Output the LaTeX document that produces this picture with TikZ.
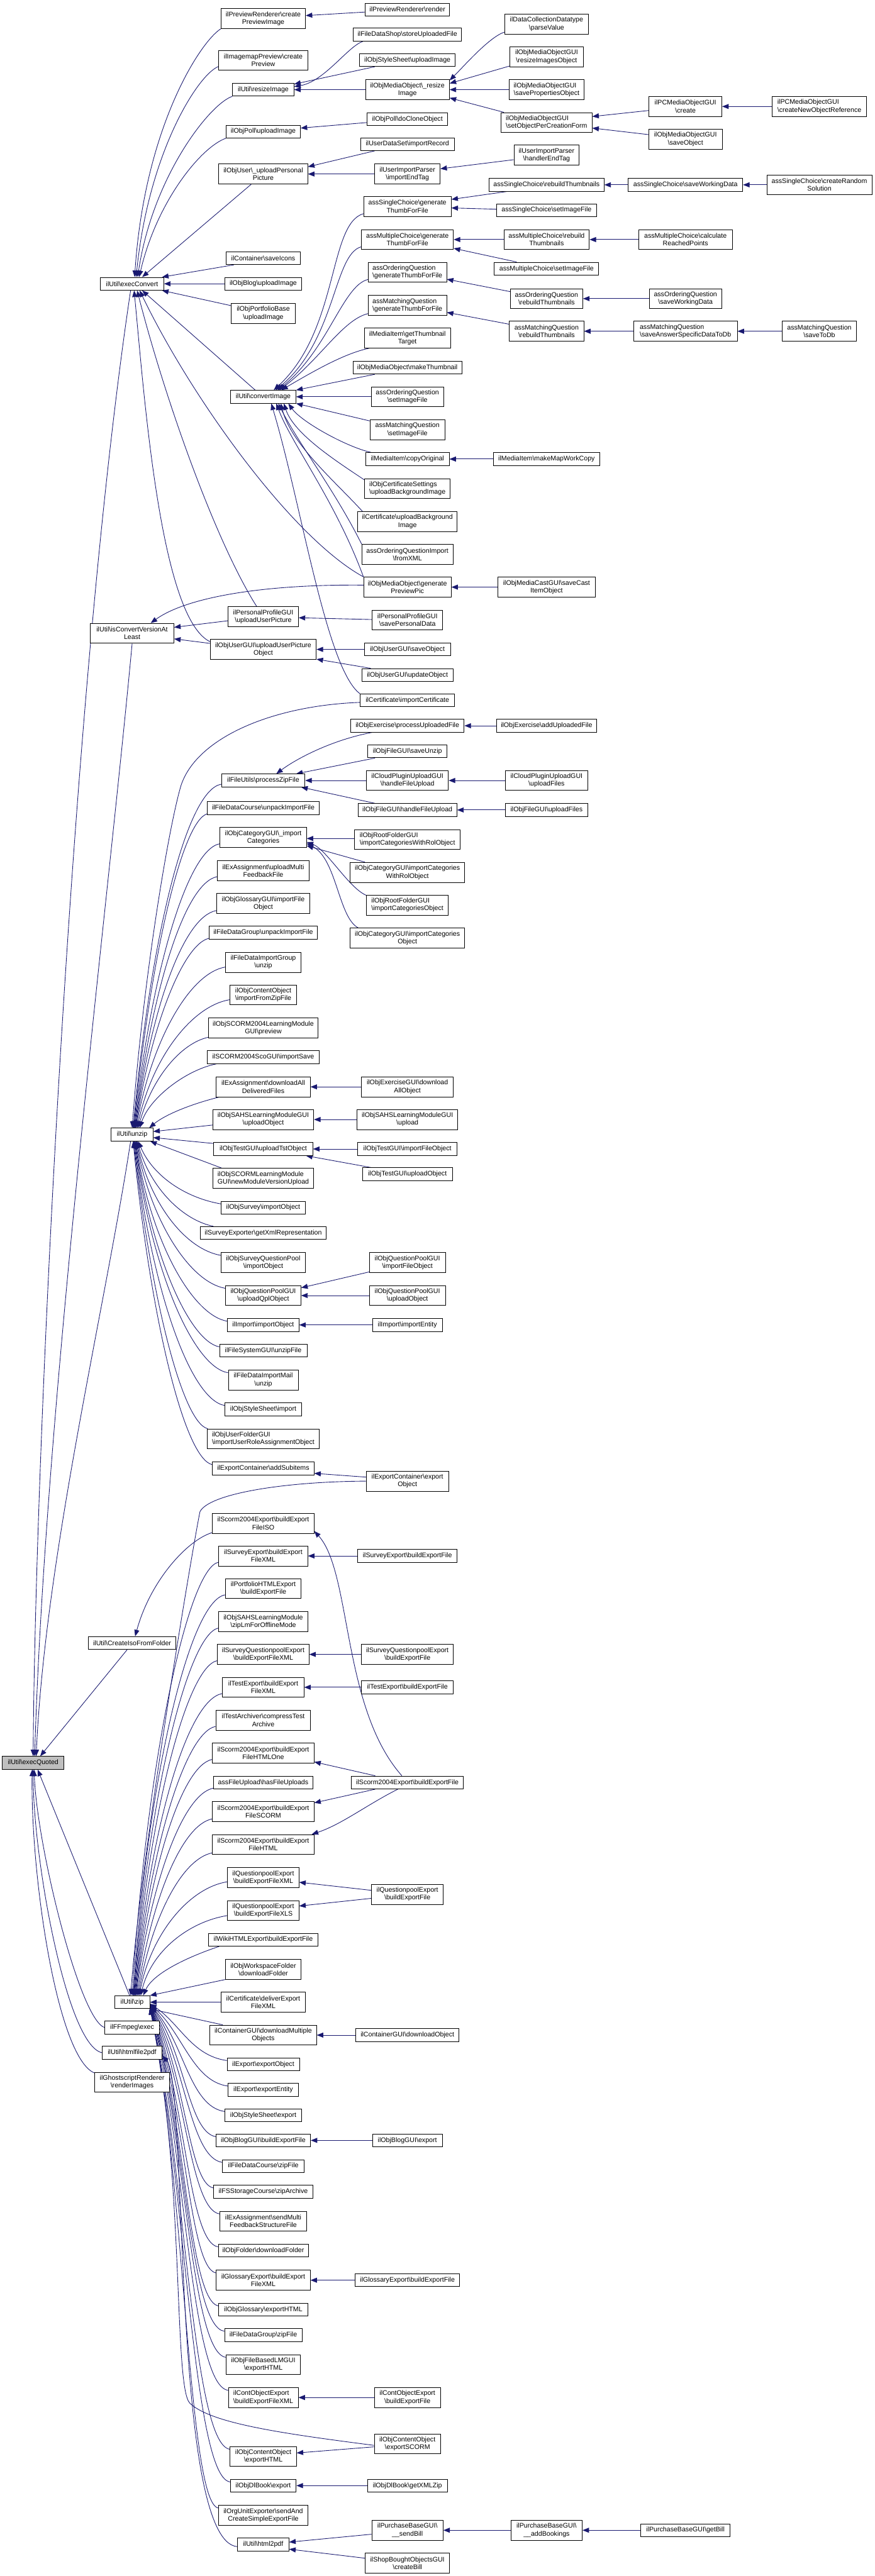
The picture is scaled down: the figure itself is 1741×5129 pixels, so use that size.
\documentclass[tikz,border=0pt]{standalone}
\usepackage{fontspec}
\setmainfont{Liberation Sans}
\usetikzlibrary{arrows.meta,calc}
\definecolor{mblue}{RGB}{25,25,112}
\pgfdeclarelayer{edgelayer}
\pgfsetlayers{edgelayer,main}
\newcommand{\bkslash}{\textbackslash}
\newcommand{\nbox}[5][fn]{\node[#1,minimum width=#4pt] (#2) at #3 {#5};}
\newcommand{\cv}[6]{\draw[calledge] ($(#1)+(#2)$) .. controls ($(#1)+(#2)+(#3)$) and ($(#5)+(#6)+(#4)$) .. ($(#5)+(#6)$);}
\newcommand{\seg}[4]{\draw[calledge] ($(#1)+(#2)$) -- ($(#3)+(#4)$);}
\begin{document}
\begin{tikzpicture}[x=1pt,y=-1pt,
 fn/.style={draw=black, line width=1.1pt, fill=white, inner xsep=3pt, inner ysep=1pt, minimum height=25.6pt, font=\fontsize{13.3}{15.3}\selectfont, align=center},
 fn2/.style={fn, minimum height=39.8pt},
 calledge/.style={draw=mblue, line width=1.1pt, -{Triangle[length=13pt,width=10pt]}}]
\useasboundingbox (0,0) rectangle (1741,5129);
\let\bs\bkslash
% column 1
\nbox[fn,fill=gray!50]{eq}{(66,3510)}{123}{ilUtil\bs execQuoted}
% column 2
\nbox{execconv}{(263,565)}{126}{ilUtil\bs execConvert}
\nbox[fn2]{isconv}{(263,1261)}{166}{ilUtil\bs isConvertVersionAt\\Least}
\nbox{unzip}{(263,2259)}{83}{ilUtil\bs unzip}
\nbox{createiso}{(263,3271.4)}{175}{ilUtil\bs CreateIsoFromFolder}
\nbox{zip}{(263,3986.5)}{70}{ilUtil\bs zip}
\nbox{ffmpeg}{(263,4037)}{108}{ilFFmpeg\bs exec}
\nbox{htmlfile2pdf}{(263,4087)}{119}{ilUtil\bs htmlfile2pdf}
\nbox[fn2]{ghost}{(263,4146)}{148}{ilGhostscriptRenderer\\\bs renderImages}
% column 3
\nbox[fn2]{prevImg}{(524,37)}{168}{ilPreviewRenderer\bs create\\PreviewImage}
\nbox[fn2]{imgmap}{(524,120)}{177}{ilImagemapPreview\bs create\\Preview}
\nbox{resize}{(524,178.5)}{122}{ilUtil\bs resizeImage}
\nbox{pollup}{(524,262)}{148}{ilObjPoll\bs uploadImage}
\nbox[fn2]{userpic}{(524,346.5)}{177}{ilObjUser\bs \_uploadPersonal\\Picture}
\nbox{saveicons}{(524,514)}{148}{ilContainer\bs saveIcons}
\nbox{blogimg}{(524,565)}{152}{ilObjBlog\bs uploadImage}
\nbox[fn2]{portimg}{(524,624)}{127}{ilObjPortfolioBase\\\bs uploadImage}
\nbox{convert}{(524,790)}{130}{ilUtil\bs convertImage}
\nbox[fn2]{ppupload}{(524,1228)}{140}{ilPersonalProfileGUI\\\bs uploadUserPicture}
\nbox[fn2]{userguiupload}{(524,1293)}{211}{ilObjUserGUI\bs uploadUserPicture\\Object}
\nbox{pzip}{(524,1554)}{166}{ilFileUtils\bs processZipFile}
\nbox{fdcunpack}{(524,1609)}{222}{ilFileDataCourse\bs unpackImportFile}
\nbox[fn2]{catimport}{(524,1667.5)}{172}{ilObjCategoryGUI\bs \_import\\Categories}
\nbox[fn2]{exmulti}{(524,1734)}{182}{ilExAssignment\bs uploadMulti\\FeedbackFile}
\nbox[fn2]{glossimp}{(524,1798.6)}{186}{ilObjGlossaryGUI\bs importFile\\Object}
\nbox{fdgunpack}{(524,1857)}{216}{ilFileDataGroup\bs unpackImportFile}
\nbox[fn2]{fdigunzip}{(524,1916)}{150}{ilFileDataImportGroup\\\bs unzip}
\nbox[fn2]{cozip}{(524,1981)}{132}{ilObjContentObject\\\bs importFromZipFile}
\nbox[fn2]{scormprev}{(524,2046.7)}{217}{ilObjSCORM2004LearningModule\\GUI\bs preview}
\nbox{scoimport}{(524,2105)}{222}{ilSCORM2004ScoGUI\bs importSave}
\nbox[fn2]{exdownload}{(524,2164)}{187}{ilExAssignment\bs downloadAll\\DeliveredFiles}
\nbox[fn2]{sahsupload}{(524,2229)}{201}{ilObjSAHSLearningModuleGUI\\\bs uploadObject}
\nbox{tstupload}{(524,2287.7)}{197}{ilObjTestGUI\bs uploadTstObject}
\nbox[fn2,align=left]{scormnew}{(524,2346)}{201}{ilObjSCORMLearningModule\\GUI\bs newModuleVersionUpload}
\nbox{survimport}{(524,2404.4)}{167}{ilObjSurvey\bs importObject}
\nbox{survxml}{(524,2455)}{251}{ilSurveyExporter\bs getXmlRepresentation}
\nbox[fn2]{sqpimport}{(524,2514)}{167}{ilObjSurveyQuestionPool\\\bs importObject}
\nbox[fn2]{qplupload}{(524,2579.5)}{150}{ilObjQuestionPoolGUI\\\bs uploadQplObject}
\nbox{impobj}{(524,2638)}{142}{ilImport\bs importObject}
\nbox{fsunzip}{(524,2689)}{174}{ilFileSystemGUI\bs unzipFile}
\nbox[fn2]{fdimunzip}{(524,2747.7)}{139}{ilFileDataImportMail\\\bs unzip}
\nbox{ssimport}{(524,2805.8)}{152}{ilObjStyleSheet\bs import}
\nbox[fn2,align=left]{ufimport}{(524,2865)}{224}{ilObjUserFolderGUI\\\bs importUserRoleAssignmentObject}
\nbox{ecadd}{(524,2923.5)}{202}{ilExportContainer\bs addSubitems}
\nbox[fn2]{scoiso}{(524,3033)}{202}{ilScorm2004Export\bs buildExport\\FileISO}
\nbox[fn2]{survexpxml}{(524,3098)}{177}{ilSurveyExport\bs buildExport\\FileXML}
\nbox[fn2]{porthtml}{(524,3163)}{151}{ilPortfolioHTMLExport\\\bs buildExportFile}
\nbox[fn2]{sahszip}{(524,3229)}{177}{ilObjSAHSLearningModule\\\bs zipLmForOfflineMode}
\nbox[fn2]{sqpexpxml}{(524,3294)}{182}{ilSurveyQuestionpoolExport\\\bs buildExportFileXML}
\nbox[fn2]{tstexpxml}{(524,3359.5)}{162}{ilTestExport\bs buildExport\\FileXML}
\nbox[fn2]{tstarch}{(524,3425)}{189}{ilTestArchiver\bs compressTest\\Archive}
\nbox[fn2]{scohtmlone}{(524,3490.6)}{202}{ilScorm2004Export\bs buildExport\\FileHTMLOne}
\nbox{fileupload}{(524,3549)}{198}{assFileUpload\bs hasFileUploads}
\nbox[fn2]{scoscorm}{(524,3607)}{202}{ilScorm2004Export\bs buildExport\\FileSCORM}
\nbox[fn2]{scohtml}{(524,3672.7)}{202}{ilScorm2004Export\bs buildExport\\FileHTML}
\nbox[fn2]{qpxml}{(524,3738.7)}{142}{ilQuestionpoolExport\\\bs buildExportFileXML}
\nbox[fn2]{qpxls}{(524,3804)}{142}{ilQuestionpoolExport\\\bs buildExportFileXLS}
\nbox{wikihtml}{(524,3862)}{218}{ilWikiHTMLExport\bs buildExportFile}
\nbox[fn2]{wsdl}{(524,3921)}{151}{ilObjWorkspaceFolder\\\bs downloadFolder}
\nbox[fn2]{certxml}{(524,3986.5)}{168}{ilCertificate\bs deliverExport\\FileXML}
\nbox[fn2]{contdlmulti}{(524,4052)}{212}{ilContainerGUI\bs downloadMultiple\\Objects}
\nbox{expobj}{(524,4110)}{144}{ilExport\bs exportObject}
\nbox{expent}{(524,4160.8)}{140}{ilExport\bs exportEntity}
\nbox{ssexport}{(524,4211.5)}{152}{ilObjStyleSheet\bs export}
\nbox{blogexp}{(524,4261.6)}{188}{ilObjBlogGUI\bs buildExportFile}
\nbox{fdczip}{(524,4312.8)}{162}{ilFileDataCourse\bs zipFile}
\nbox{fsszip}{(524,4363.6)}{198}{ilFSStorageCourse\bs zipArchive}
\nbox[fn2]{exsend}{(524,4422.5)}{173}{ilExAssignment\bs sendMulti\\FeedbackStructureFile}
\nbox{folderdl}{(524,4481)}{179}{ilObjFolder\bs downloadFolder}
\nbox[fn2]{glossxml}{(524,4540)}{187}{ilGlossaryExport\bs buildExport\\FileXML}
\nbox{glosshtml}{(524,4598.6)}{177}{ilObjGlossary\bs exportHTML}
\nbox{fdgzip}{(524,4649)}{154}{ilFileDataGroup\bs zipFile}
\nbox[fn2]{flmhtml}{(524,4708)}{148}{ilObjFileBasedLMGUI\\\bs exportHTML}
\nbox[fn2,align=left]{coexpxml}{(524,4773.6)}{139}{ilContObjectExport\\\bs buildExportFileXML}
\nbox[fn2]{cohtml}{(524,4891)}{132}{ilObjContentObject\\\bs exportHTML}
\nbox{dlbook}{(524,4949)}{131}{ilObjDlBook\bs export}
\nbox[fn2]{orgunit}{(524,5008)}{178}{ilOrgUnitExporter\bs sendAnd\\CreateSimpleExportFile}
\nbox{html2pdf}{(524,5066.5)}{102}{ilUtil\bs html2pdf}
% column 4
\nbox{prender}{(811,19)}{168}{ilPreviewRenderer\bs render}
\nbox{storeup}{(811,69)}{216}{ilFileDataShop\bs storeUploadedFile}
\nbox{ssupimg}{(811,119.5)}{191}{ilObjStyleSheet\bs uploadImage}
\nbox[fn2]{moresize}{(811,178.5)}{167}{ilObjMediaObject\bs \_resize\\Image}
\nbox{pollclone}{(811,237)}{160}{ilObjPoll\bs doCloneObject}
\nbox{udsimport}{(811,287)}{187}{ilUserDataSet\bs importRecord}
\nbox[fn2]{uipend}{(811,346.5)}{130}{ilUserImportParser\\\bs importEndTag}
\nbox[fn2]{scthumb}{(811,411)}{174}{assSingleChoice\bs generate\\ThumbForFile}
\nbox[fn2]{mcthumb}{(811,477)}{183}{assMultipleChoice\bs generate\\ThumbForFile}
\nbox[fn2,align=left]{oqthumb}{(811,542)}{156}{assOrderingQuestion\\\bs generateThumbForFile}
\nbox[fn2,align=left]{mqthumb}{(811,608)}{156}{assMatchingQuestion\\\bs generateThumbForFile}
\nbox[fn2]{mithumb}{(811,673)}{171}{ilMediaItem\bs getThumbnail\\Target}
\nbox{momake}{(811,732)}{217}{ilObjMediaObject\bs makeThumbnail}
\nbox[fn2]{oqsetimg}{(811,790)}{144}{assOrderingQuestion\\\bs setImageFile}
\nbox[fn2]{mqsetimg}{(811,855.5)}{149}{assMatchingQuestion\\\bs setImageFile}
\nbox{micopy}{(811,914)}{166}{ilMediaItem\bs copyOriginal}
\nbox[fn2,align=left]{certsetbg}{(811,973)}{170}{ilObjCertificateSettings\\\bs uploadBackgroundImage}
\nbox[fn2]{certbg}{(811,1038.5)}{198}{ilCertificate\bs uploadBackground\\Image}
\nbox[fn2]{oqimport}{(811,1104)}{181}{assOrderingQuestionImport\\\bs fromXML}
\nbox[fn2]{moprev}{(811,1169)}{174}{ilObjMediaObject\bs generate\\PreviewPic}
\nbox[fn2]{ppsave}{(811,1234.5)}{140}{ilPersonalProfileGUI\\\bs savePersonalData}
\nbox{usave}{(811,1293)}{171}{ilObjUserGUI\bs saveObject}
\nbox{uupdate}{(811,1344)}{181}{ilObjUserGUI\bs updateObject}
\nbox{certimp}{(811,1394.5)}{188}{ilCertificate\bs importCertificate}
\nbox{exproc}{(811,1445)}{226}{ilObjExercise\bs processUploadedFile}
\nbox{fsaveunzip}{(811,1496)}{158}{ilObjFileGUI\bs saveUnzip}
\nbox[fn2]{cloudhandle}{(811,1554)}{163}{ilCloudPluginUploadGUI\\\bs handleFileUpload}
\nbox{filehandle}{(811,1612.7)}{197}{ilObjFileGUI\bs handleFileUpload}
\nbox[fn2,align=left]{rootcatrol}{(811,1671.5)}{211}{ilObjRootFolderGUI\\\bs importCategoriesWithRolObject}
\nbox[fn2]{catcatrol}{(811,1737)}{228}{ilObjCategoryGUI\bs importCategories\\WithRolObject}
\nbox[fn2,align=left]{rootcat}{(811,1802)}{163}{ilObjRootFolderGUI\\\bs importCategoriesObject}
\nbox[fn2]{catcat}{(811,1868)}{228}{ilObjCategoryGUI\bs importCategories\\Object}
\nbox[fn2]{exguidl}{(811,2164)}{183}{ilObjExerciseGUI\bs download\\AllObject}
\nbox[fn2]{sahsup}{(811,2229)}{200}{ilObjSAHSLearningModuleGUI\\\bs upload}
\nbox{tstimpfile}{(811,2287.7)}{198}{ilObjTestGUI\bs importFileObject}
\nbox{tstupobj}{(811,2338)}{179}{ilObjTestGUI\bs uploadObject}
\nbox[fn2]{qpimpfile}{(811,2514)}{151}{ilObjQuestionPoolGUI\\\bs importFileObject}
\nbox[fn2]{qpupobj}{(811,2579.5)}{151}{ilObjQuestionPoolGUI\\\bs uploadObject}
\nbox{impent}{(811,2638)}{139}{ilImport\bs importEntity}
\nbox[fn2]{ecexport}{(811,2949)}{164}{ilExportContainer\bs export\\Object}
\nbox{survexpfile}{(811,3098)}{198}{ilSurveyExport\bs buildExportFile}
\nbox[fn2]{sqpexpfile}{(811,3294)}{183}{ilSurveyQuestionpoolExport\\\bs buildExportFile}
\nbox{tstexpfile}{(811,3359.5)}{183}{ilTestExport\bs buildExportFile}
\nbox{scoexpfile}{(811,3549)}{223}{ilScorm2004Export\bs buildExportFile}
\nbox[fn2]{qpexpfile}{(811,3771.7)}{143}{ilQuestionpoolExport\\\bs buildExportFile}
\nbox{contdl}{(811,4052)}{205}{ilContainerGUI\bs downloadObject}
\nbox{blogguiexp}{(811,4261.6)}{139}{ilObjBlogGUI\bs export}
\nbox{glossexpfile}{(811,4540)}{208}{ilGlossaryExport\bs buildExportFile}
\nbox[fn2]{coexpfile}{(811,4773.6)}{132}{ilContObjectExport\\\bs buildExportFile}
\nbox[fn2]{coscorm}{(811,4865.8)}{132}{ilObjContentObject\\\bs exportSCORM}
\nbox{dlxml}{(811,4949)}{159}{ilObjDlBook\bs getXMLZip}
\nbox[fn2]{sendbill}{(811,5037.8)}{142}{ilPurchaseBaseGUI\bs\\\_\_sendBill}
\nbox[fn2]{shopbill}{(811,5103.5)}{168}{ilShopBoughtObjectsGUI\\\bs createBill}
% column 5
\nbox[fn2]{dcparse}{(1088,48)}{167}{ilDataCollectionDatatype\\\bs parseValue}
\nbox[fn2]{moguiresize}{(1088,113)}{146}{ilObjMediaObjectGUI\\\bs resizeImagesObject}
\nbox[fn2,align=left]{moguisaveprop}{(1088,178.5)}{150}{ilObjMediaObjectGUI\\\bs savePropertiesObject}
\nbox[fn2,align=left]{moguisetobj}{(1088,244)}{181}{ilObjMediaObjectGUI\\\bs setObjectPerCreationForm}
\nbox[fn2]{uiphandler}{(1088,309)}{130}{ilUserImportParser\\\bs handlerEndTag}
\nbox{screbuild}{(1088,368)}{229}{assSingleChoice\bs rebuildThumbnails}
\nbox{scsetimg}{(1088,418.5)}{199}{assSingleChoice\bs setImageFile}
\nbox[fn2]{mcrebuild}{(1088,477)}{170}{assMultipleChoice\bs rebuild\\Thumbnails}
\nbox{mcsetimg}{(1088,535)}{208}{assMultipleChoice\bs setImageFile}
\nbox[fn2]{oqrebuild}{(1088,594.6)}{144}{assOrderingQuestion\\\bs rebuildThumbnails}
\nbox[fn2]{mqrebuild}{(1088,659.5)}{148}{assMatchingQuestion\\\bs rebuildThumbnails}
\nbox{mimapcopy}{(1088,914)}{212}{ilMediaItem\bs makeMapWorkCopy}
\nbox[fn2]{mcastsave}{(1088,1169)}{195}{ilObjMediaCastGUI\bs saveCast\\ItemObject}
\nbox{exadd}{(1088,1445)}{200}{ilObjExercise\bs addUploadedFile}
\nbox[fn2]{cloudupload}{(1088,1554)}{163}{ilCloudPluginUploadGUI\\\bs uploadFiles}
\nbox{fileupload2}{(1088,1612.7)}{163}{ilObjFileGUI\bs uploadFiles}
\nbox[fn2]{addbook}{(1088,5037.8)}{142}{ilPurchaseBaseGUI\bs\\\_\_addBookings}
% column 6
\nbox[fn2]{pccreate}{(1364.5,212)}{145}{ilPCMediaObjectGUI\\\bs create}
\nbox[fn2]{moguisave}{(1364.5,277)}{146}{ilObjMediaObjectGUI\\\bs saveObject}
\nbox{scsavework}{(1364.5,368)}{228}{assSingleChoice\bs saveWorkingData}
\nbox[fn2]{mccalc}{(1364.5,477)}{186}{assMultipleChoice\bs calculate\\ReachedPoints}
\nbox[fn2]{oqsavework}{(1364.5,594.6)}{144}{assOrderingQuestion\\\bs saveWorkingData}
\nbox[fn2,align=left]{mqsaveans}{(1364.5,659.5)}{206}{assMatchingQuestion\\\bs saveAnswerSpecificDataToDb}
\nbox{getbill}{(1364.5,5037.8)}{178}{ilPurchaseBaseGUI\bs getBill}
% column 7
\nbox[fn2,align=left]{pcnewref}{(1631,212)}{187}{ilPCMediaObjectGUI\\\bs createNewObjectReference}
\nbox[fn2]{screate}{(1631,368)}{209}{assSingleChoice\bs createRandom\\Solution}
\nbox[fn2]{mqsavedb}{(1631,659.5)}{148}{assMatchingQuestion\\\bs saveToDb}

\begin{pgfonlayer}{edgelayer}
% into execQuoted
\draw[calledge] ($(execconv.south)+(-3,0)$) .. controls (140,1378) and (70,2900) .. (eq.north);
\draw[calledge] (isconv.south) .. controls (215,1800) and (90,2800) .. ($(eq.north)+(3,0)$);
\draw[calledge] ($(unzip.south)+(-3,0)$) .. controls (210,2600) and (90,3100) .. ($(eq.north)+(6,0)$);
\seg{createiso.south}{-10,0}{eq.north}{14,0}
\seg{zip.north}{-5,0}{eq.south}{9,0}
\cv{ffmpeg.west}{0,0}{-50,-15}{5,150}{eq.south}{2,0}
\cv{htmlfile2pdf.west}{0,0}{-70,-15}{0,180}{eq.south}{0,0}
\cv{ghost.north west}{3,3}{-75,-20}{-3,220}{eq.south}{-2,0}
% into execConvert
\cv{prevImg.south west}{0,0}{-40,25}{20,-300}{execconv.north}{5,0}
\cv{imgmap.south west}{0,-8}{-40,15}{25,-250}{execconv.north}{8,0}
\cv{resize.south west}{0,0}{-45,15}{30,-200}{execconv.north}{11,0}
\cv{pollup.south west}{0,0}{-50,18}{35,-150}{execconv.north}{14,0}
\seg{userpic.south}{-24,0}{execconv.north}{20,0}
\seg{saveicons.south west}{16,0}{execconv.north east}{-4,0}
\seg{blogimg.west}{0,0}{execconv.east}{0,0}
\seg{portimg.north west}{0,5}{execconv.south east}{-4,0}
\seg{convert.north}{-16,0}{execconv.south}{20,0}
\draw[calledge] ($(ppupload.north)+(-13,0)$) .. controls (430,1080) and (330,800) .. ($(execconv.south)+(10,0)$);
\draw[calledge] ($(userguiupload.north west)+(0,5)$) .. controls (320,1230) and (288,800) .. ($(execconv.south)+(4,0)$);
\draw[calledge] (moprev.north west) .. controls (580,1070) and (380,790) .. ($(execconv.south)+(15,0)$);
% into isConvertVersionAtLeast
\draw[calledge] ($(moprev.west)+(0,-4)$) .. controls (520,1163) and (370,1190) .. ($(isconv.north)+(37,0)$);
\seg{ppupload.west}{0,8}{isconv.east}{0,-12}
\seg{userguiupload.west}{0,-12}{isconv.east}{0,11}
% into convertImage
\cv{scthumb.south west}{0,-6}{-70,20}{130,-120}{convert.north}{21,0}
\cv{mcthumb.south west}{0,-6}{-55,15}{120,-100}{convert.north}{25,0}
\cv{oqthumb.south west}{0,-6}{-50,12}{100,-80}{convert.north}{29,0}
\cv{mqthumb.south west}{0,-4}{-50,12}{80,-60}{convert.north}{32,0}
\cv{mithumb.south west}{10,0}{-50,10}{60,-35}{convert.north}{36,0}
\seg{momake.south west}{44,0}{convert.north east}{0,0}
\seg{oqsetimg.west}{0,0}{convert.east}{0,0}
\seg{mqsetimg.north west}{0,3}{convert.south east}{0,0}
\draw[calledge] ($(micopy.north west)+(11,0)$) .. controls (690,890) and (600,840) .. ($(convert.south)+(50,0)$);
\cv{certsetbg.north west}{0,3}{-60,-40}{20,60}{convert.south}{41,0}
\cv{certbg.north west}{10,0}{-55,-60}{20,80}{convert.south}{35,0}
\cv{oqimport.north west}{0,0}{-55,-110}{40,80}{convert.south}{30,0}
\cv{moprev.north west}{0,0}{-55,-150}{30,80}{convert.south}{26,0}
\cv{certimp.north west}{0,0}{-67,-50}{60,200}{convert.south}{16,0}
% upper right part
\seg{prender.west}{0,5}{prevImg.east}{0,-6}
\cv{storeup.south west}{20,0}{-30,10}{60,-10}{resize.east}{0,-6}
\seg{ssupimg.south west}{31,0}{resize.east}{0,-11}
\seg{moresize.west}{0,0}{resize.east}{0,0}
\seg{pollclone.west}{0,7}{pollup.east}{0,-7}
\seg{udsimport.south west}{29,0}{userpic.north east}{0,6}
\seg{uipend.west}{0,0}{userpic.east}{0,0}
\seg{uiphandler.west}{0,9}{uipend.north east}{0,10}
\cv{dcparse.west}{0,16}{-30,10}{30,-30}{moresize.north east}{0,2}
\seg{moguiresize.south west}{0,-2}{moresize.north east}{0,8}
\seg{moguisaveprop.west}{0,0}{moresize.east}{0,0}
\seg{moguisetobj.north west}{6,0}{moresize.south east}{0,-4}
\seg{pccreate.west}{0,8}{moguisetobj.east}{0,-12}
\seg{moguisave.west}{0,-9}{moguisetobj.east}{0,11}
\seg{pcnewref.west}{0,0}{pccreate.east}{0,0}
\seg{screbuild.south west}{36,0}{scthumb.east}{0,-14}
\seg{scsetimg.west}{0,-2}{scthumb.east}{0,3}
\seg{scsavework.west}{0,0}{screbuild.east}{0,0}
\seg{screate.west}{0,0}{scsavework.east}{0,0}
\seg{mcrebuild.west}{0,0}{mcthumb.east}{0,0}
\seg{mcsetimg.north west}{45,0}{mcthumb.south east}{0,-3}
\seg{mccalc.west}{0,0}{mcrebuild.east}{0,0}
\seg{oqrebuild.west}{0,-14}{oqthumb.east}{0,14}
\seg{oqsavework.west}{0,0}{oqrebuild.east}{0,0}
\seg{mqrebuild.west}{0,-14}{mqthumb.east}{0,14}
\seg{mqsaveans.west}{0,0}{mqrebuild.east}{0,0}
\seg{mqsavedb.west}{0,0}{mqsaveans.east}{0,0}
\seg{mimapcopy.west}{0,0}{micopy.east}{0,0}
\seg{mcastsave.west}{0,0}{moprev.east}{0,0}
\seg{ppsave.west}{0,-1}{ppupload.east}{0,2}
\seg{usave.west}{0,0}{userguiupload.east}{0,0}
\seg{uupdate.north west}{18,0}{userguiupload.south east}{0,-1}
\cv{exproc.south west}{43,0}{-80,15}{40,-30}{pzip.north}{26,0}
\seg{fsaveunzip.south west}{15,0}{pzip.north east}{-18,0}
\seg{cloudhandle.west}{0,0}{pzip.east}{0,0}
\seg{filehandle.north west}{34,0}{pzip.south east}{-8,0}
\seg{exadd.west}{0,0}{exproc.east}{0,0}
\seg{cloudupload.west}{0,0}{cloudhandle.east}{0,0}
\seg{fileupload2.west}{0,0}{filehandle.east}{0,0}
\seg{rootcatrol.west}{0,-2}{catimport.east}{0,2}
\seg{catcatrol.north west}{30,0}{catimport.south east}{0,-4}
\cv{rootcat.north west}{0,1}{-35,-15}{40,15}{catimport.east}{0,9}
\cv{catcat.north west}{17,0}{-40,-20}{60,30}{catimport.east}{0,12}
\seg{exguidl.west}{0,0}{exdownload.east}{0,0}
\seg{sahsup.west}{0,0}{sahsupload.east}{0,0}
\seg{tstimpfile.west}{0,0}{tstupload.east}{0,0}
\seg{tstupobj.north west}{18,0}{tstupload.south east}{-14,0}
\seg{qpimpfile.south west}{0,-2}{qplupload.north east}{0,5}
\seg{qpupobj.west}{0,0}{qplupload.east}{0,0}
\seg{impent.west}{0,0}{impobj.east}{0,0}
\seg{ecexport.west}{0,-8}{ecadd.east}{0,10}
% into unzip
\draw[calledge] ($(certimp.west)+(0,4)$) .. controls (540,1405) and (390,1470) .. (360,1565) .. controls (335,1650) and (285,1950) .. (unzip.north);
\cv{pzip.south west}{0,-6}{-70,12}{35,-377}{unzip.north}{2,0}
\cv{fdcunpack.south west}{0,-2}{-50,15}{35,-347}{unzip.north}{3,0}
\cv{catimport.south west}{0,-8}{-65,12}{35,-310}{unzip.north}{4,0}
\cv{exmulti.south west}{0,-9}{-65,12}{35,-275}{unzip.north}{5,0}
\cv{glossimp.south west}{0,-6}{-65,12}{33,-240}{unzip.north}{6,0}
\cv{fdgunpack.south west}{0,-2}{-50,12}{32,-208}{unzip.north}{7,0}
\cv{fdigunzip.south west}{0,-11}{-70,12}{32,-177}{unzip.north}{8,0}
\cv{cozip.south west}{0,-11}{-75,12}{30,-140}{unzip.north}{10,0}
\cv{scormprev.south west}{0,-2}{-55,12}{28,-100}{unzip.north}{12,0}
\cv{scoimport.south west}{18,0}{-60,12}{20,-60}{unzip.north}{15,0}
\cv{exdownload.south west}{6,0}{-60,15}{30,-25}{unzip.north east}{-8,0}
\seg{sahsupload.west}{0,11}{unzip.east}{0,-6}
\seg{tstupload.west}{0,-11}{unzip.east}{0,6}
\seg{scormnew.north west}{18,0}{unzip.south east}{-6,0}
\cv{survimport.north west}{0,6}{-70,-12}{30,70}{unzip.south}{12,0}
\cv{survxml.north west}{27,0}{-60,-12}{28,95}{unzip.south}{10,0}
\cv{sqpimport.north west}{0,6}{-70,-12}{28,126}{unzip.south}{9,0}
\cv{qplupload.north west}{0,6}{-70,-12}{30,160}{unzip.south}{8,0}
\cv{impobj.north west}{0,6}{-70,-12}{30,198}{unzip.south}{7,0}
\cv{fsunzip.north west}{0,6}{-60,-12}{32,225}{unzip.south}{6,0}
\cv{fdimunzip.north west}{0,6}{-70,-12}{33,254}{unzip.south}{5,0}
\cv{ssimport.north west}{0,6}{-70,-12}{34,290}{unzip.south}{4,0}
\cv{ufimport.north west}{2,0}{-50,-12}{35,315}{unzip.south}{3,0}
\cv{ecadd.north west}{0,6}{-55,-12}{35,355}{unzip.south}{2,0}
% export part
\draw[calledge] ($(scoexpfile.north)+(-11,0)$) .. controls (680,3400) and (700,3130) .. ($(scoiso.south east)+(0,-5)$);
\cv{scoiso.south west}{0,-2}{-50,15}{30,-110}{createiso.north}{6,0}
\seg{survexpfile.west}{0,0}{survexpxml.east}{0,0}
\seg{sqpexpfile.west}{0,0}{sqpexpxml.east}{0,0}
\seg{tstexpfile.west}{0,0}{tstexpxml.east}{0,0}
\seg{scoexpfile.north west}{48,0}{scohtmlone.south east}{0,-3}
\seg{scoexpfile.south west}{48,0}{scoscorm.north east}{0,3}
\cv{scoexpfile.south}{-19,0}{-60,30}{60,-20}{scohtml.north east}{-5,0}
\seg{qpexpfile.west}{0,-8}{qpxml.east}{0,9}
\seg{qpexpfile.west}{0,8}{qpxls.east}{0,-9}
\seg{contdl.west}{0,0}{contdlmulti.east}{0,0}
\seg{blogguiexp.west}{0,0}{blogexp.east}{0,0}
\seg{glossexpfile.west}{0,0}{glossxml.east}{0,0}
\seg{coexpfile.west}{0,0}{coexpxml.east}{0,0}
\seg{coscorm.west}{0,6}{cohtml.east}{0,-7}
\seg{dlxml.west}{0,0}{dlbook.east}{0,0}
\seg{sendbill.west}{0,8}{html2pdf.east}{0,-5}
\seg{shopbill.west}{0,-10}{html2pdf.east}{0,9}
\seg{addbook.west}{0,0}{sendbill.east}{0,0}
\seg{getbill.west}{0,0}{addbook.east}{0,0}
\draw[calledge] ($(html2pdf.west)+(0,4)$) .. controls (340,5060) and (375,4150) .. ($(htmlfile2pdf.east)+(0,6)$);
% into zip
\draw[calledge] (ecexport.west) .. controls (560,2950) and (415,2975) .. (398,3010) .. controls (380,3100) and (280,3700) .. ($(zip.north)+(-3,0)$);
\cv{survexpxml.south west}{0,-8}{-60,12}{30,-475}{zip.north}{0,0}
\cv{porthtml.south west}{0,-8}{-70,12}{30,-440}{zip.north}{2,0}
\cv{sahszip.south west}{0,-8}{-60,12}{30,-404}{zip.north}{3,0}
\cv{sqpexpxml.south west}{0,-8}{-60,12}{30,-367}{zip.north}{4,0}
\cv{tstexpxml.south west}{0,-8}{-70,12}{30,-331}{zip.north}{5,0}
\cv{tstarch.south west}{0,-8}{-60,12}{30,-295}{zip.north}{6,0}
\cv{scohtmlone.south west}{0,-8}{-60,12}{30,-259}{zip.north}{7,0}
\cv{fileupload.south west}{0,-2}{-60,12}{30,-228}{zip.north}{8,0}
\cv{scoscorm.south west}{0,-6}{-60,12}{30,-195}{zip.north}{10,0}
\cv{scohtml.south west}{0,-4}{-60,12}{28,-157}{zip.north}{12,0}
\cv{qpxml.west}{0,8}{-75,12}{25,-125}{zip.north}{14,0}
\cv{qpxls.west}{0,10}{-75,12}{22,-90}{zip.north}{17,0}
\cv{wikihtml.south west}{22,0}{-60,20}{20,-45}{zip.north}{22,0}
\seg{wsdl.south west}{0,0}{zip.north east}{0,0}
\seg{certxml.west}{0,0}{zip.east}{0,0}
\seg{contdlmulti.north west}{26,0}{zip.south east}{0,0}
\cv{expobj.north west}{0,6}{-70,-10}{60,40}{zip.east}{0,3}
\cv{expent.north west}{0,6}{-70,-10}{65,57}{zip.east}{0,4}
\cv{ssexport.north west}{0,6}{-70,-10}{68,75}{zip.east}{0,5}
\cv{blogexp.north west}{0,6}{-55,-10}{70,93}{zip.east}{0,5}
\cv{fdczip.north west}{0,6}{-65,-10}{70,110}{zip.east}{0,6}
\cv{fsszip.north west}{0,6}{-50,-10}{70,128}{zip.east}{0,6}
\cv{exsend.north west}{0,6}{-60,-10}{70,147}{zip.east}{0,7}
\cv{folderdl.north west}{0,6}{-60,-10}{70,170}{zip.east}{0,7}
\cv{glossxml.north west}{0,6}{-55,-10}{70,188}{zip.east}{0,8}
\cv{glosshtml.north west}{0,6}{-60,-10}{70,210}{zip.east}{0,8}
\cv{fdgzip.north west}{0,6}{-70,-10}{70,228}{zip.east}{0,9}
\cv{flmhtml.north west}{0,6}{-70,-10}{70,246}{zip.east}{0,9}
\cv{coexpxml.north west}{0,6}{-75,-10}{70,270}{zip.east}{0,10}
\cv{cohtml.north west}{0,6}{-75,-10}{70,310}{zip.east}{0,10}
\cv{dlbook.north west}{0,6}{-75,-10}{70,333}{zip.east}{0,11}
\cv{orgunit.north west}{0,6}{-60,-10}{70,351}{zip.east}{0,11}
\draw[calledge] ($(coscorm.west)+(0,3)$) .. controls (560,4845) and (420,4825) .. (378,4785) .. controls (345,4752) and (368,4330) .. ($(zip.east)+(0,12)$);
\end{pgfonlayer}
\end{tikzpicture}
\end{document}
